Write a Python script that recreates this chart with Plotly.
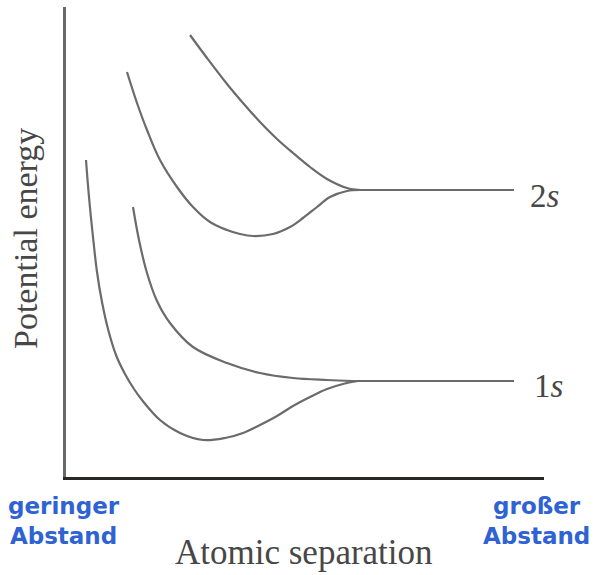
import plotly.graph_objects as go

# values (arbitrary units: separation, potential energy)
sep_2s_anti = [124, 141, 161, 177, 194, 211, 227, 244, 261, 281, 294]
en_2s_anti = [442, 419, 393, 374, 355, 338, 324, 310, 298, 289, 287]

sep_2s_bond = [61, 71, 81, 94, 111, 127, 144, 161, 174, 187, 207, 224, 237, 251, 264, 281, 294]
en_2s_bond = [405, 374, 347, 317, 290, 270, 255, 247, 243, 241, 243, 250, 259, 270, 280, 286, 287]

sep_1s_anti = [67, 73, 81, 91, 104, 127, 161, 194, 227, 261, 287]
en_1s_anti = [270, 237, 204, 176, 154, 130, 114, 104, 99, 97, 96]

sep_1s_bond = [20, 23, 27, 31, 36, 42, 50, 59, 68, 76, 94, 114, 137, 159, 177, 194, 211, 227, 244, 261, 277, 292]
en_1s_bond = [317, 280, 240, 205, 175, 148, 122, 103, 88, 77, 57, 44, 37, 39, 44, 52, 61, 71, 80, 88, 93, 96]

sep_flat_2s = [294, 448]
en_flat_2s = [287, 287]
sep_flat_1s = [287, 448]
en_flat_1s = [96, 96]

level_labels = ["2<i>s</i>", "1<i>s</i>"]
level_label_sep = [462, 466]
level_label_en = [281, 91]

curve_color = "#6b6b6b"
text_color = "#474747"
blue = "#2f62d2"

fig = go.Figure()

curves = [
    (sep_2s_anti, en_2s_anti),
    (sep_2s_bond, en_2s_bond),
    (sep_1s_anti, en_1s_anti),
    (sep_1s_bond, en_1s_bond),
]
for xs, ys in curves:
    fig.add_trace(go.Scatter(
        x=xs, y=ys, mode="lines",
        line=dict(color=curve_color, width=2.2, shape="spline", smoothing=1.0),
        hoverinfo="skip",
    ))

for xs, ys in [(sep_flat_2s, en_flat_2s), (sep_flat_1s, en_flat_1s)]:
    fig.add_trace(go.Scatter(
        x=xs, y=ys, mode="lines",
        line=dict(color=curve_color, width=2.2),
        hoverinfo="skip",
    ))

for txt, x, y in zip(level_labels, level_label_sep, level_label_en):
    fig.add_annotation(
        x=x, y=y, xref="x", yref="y", text=txt, showarrow=False,
        xanchor="left", yanchor="middle",
        font=dict(family="Liberation Serif", size=33, color=text_color),
    )

# axis titles
fig.add_annotation(
    x=-0.0858, y=0.5085, xref="paper", yref="paper", text="Potential energy",
    showarrow=False, textangle=-90, xanchor="center", yanchor="middle",
    font=dict(family="Liberation Serif", size=34, color=text_color),
)
fig.add_annotation(
    x=0.498, y=-0.1617, xref="paper", yref="paper", text="Atomic separation",
    showarrow=False, xanchor="center", yanchor="middle",
    font=dict(family="Liberation Serif", size=35, color=text_color),
)

# blue end labels
fig.add_annotation(
    x=-0.0042, y=-0.0936, xref="paper", yref="paper", text="geringer<br>Abstand",
    showarrow=False, xanchor="center", yanchor="middle", align="center",
    font=dict(family="DejaVu Sans", size=23, color=blue, weight="bold"),
)
fig.add_annotation(
    x=0.985, y=-0.0936, xref="paper", yref="paper", text="großer<br>Abstand",
    showarrow=False, xanchor="center", yanchor="middle", align="center",
    font=dict(family="DejaVu Sans", size=23, color=blue, weight="bold"),
)

fig.update_xaxes(
    range=[0, 478], showgrid=False, zeroline=False, showticklabels=False,
    ticks="", showline=True, linecolor="#2b2727", linewidth=3,
)
fig.update_yaxes(
    range=[0, 470], showgrid=False, zeroline=False, showticklabels=False,
    ticks="", showline=True, linecolor="#686868", linewidth=2.5,
)

fig.update_layout(
    width=596, height=575,
    margin=dict(l=66, r=52, t=7, b=98),
    showlegend=False,
    plot_bgcolor="white", paper_bgcolor="white",
)

# page body margin off so the figure sits at the window's corner
fig.write_html(
    "out.html",
    config={"displayModeBar": False},
    post_script="document.body.style.margin='0';",
)
